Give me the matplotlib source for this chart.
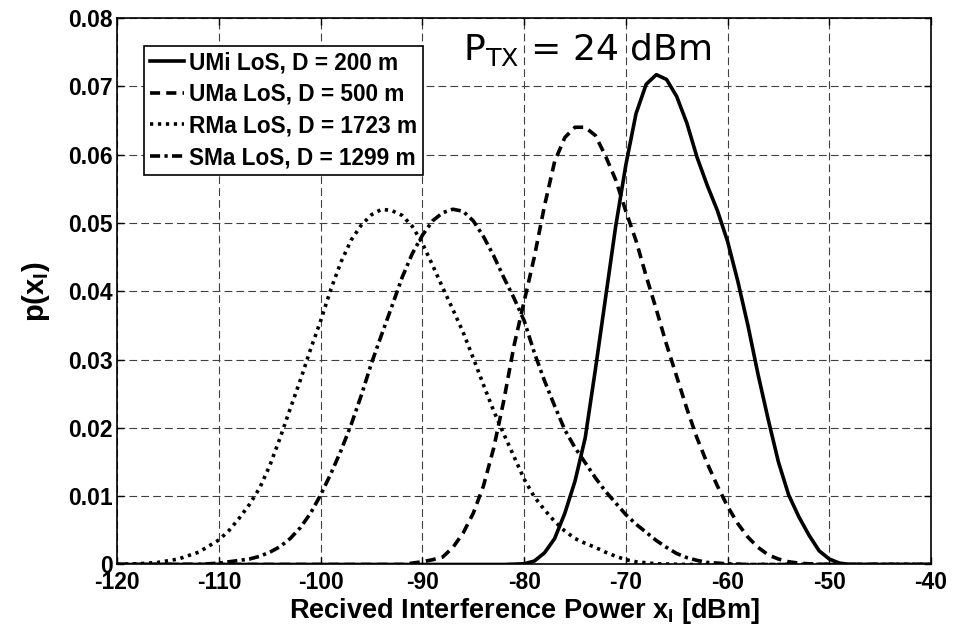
import matplotlib
matplotlib.use('Agg')
import matplotlib.pyplot as plt

plt.rcParams['font.family'] = ['Liberation Sans', 'DejaVu Sans']
plt.rcParams['font.weight'] = 'bold'
plt.rcParams['axes.unicode_minus'] = False
plt.rcParams['mathtext.fontset'] = 'custom'
plt.rcParams['mathtext.rm'] = 'DejaVu Sans:weight=normal'
plt.rcParams['mathtext.bf'] = 'Liberation Sans:bold'

# UMi LoS, D = 200 m
umi_x = [-120, -82, -80, -79, -78, -77, -76, -75, -74, -73, -72, -71, -70, -69, -68,
         -67, -66, -65, -64, -63, -62, -61, -60, -59, -58, -57, -56, -55, -54, -53,
         -52, -51, -50, -49, -48, -40]
umi_y = [0, 0, 0.0001, 0.0005, 0.0017, 0.0038, 0.0075, 0.0122, 0.0185, 0.0285, 0.0390,
         0.0495, 0.0585, 0.0660, 0.0703, 0.0717, 0.0710, 0.0685, 0.0646, 0.0596, 0.0555,
         0.0518, 0.0473, 0.0415, 0.0350, 0.0278, 0.0212, 0.0150, 0.0102, 0.0070, 0.0043,
         0.0020, 0.0008, 0.0002, 0, 0]

# UMa LoS, D = 500 m
uma_x = [-120, -92, -90, -89, -88, -87, -86, -85, -84, -83, -82, -81, -80, -79, -78,
         -77, -76, -75, -74, -73, -72, -71, -70, -69, -68, -67, -66, -65, -64, -63,
         -62, -61, -60, -59, -58, -57, -56, -55, -54, -53, -52, -50, -40]
uma_y = [0, 0, 0.0004, 0.0007, 0.0011, 0.0025, 0.0046, 0.0075, 0.0115, 0.0170, 0.0240,
         0.0320, 0.0385, 0.0450, 0.0525, 0.0590, 0.0625, 0.0640, 0.0640, 0.0628, 0.0598,
         0.0563, 0.0517, 0.0474, 0.0422, 0.0373, 0.0322, 0.0275, 0.0228, 0.0185, 0.0148,
         0.0115, 0.0085, 0.0060, 0.0040, 0.0025, 0.0014, 0.0008, 0.0004, 0.0002, 0.0001,
         0, 0]

# RMa LoS, D = 1723 m
rma_x = [-120, -118, -116, -114, -112, -110, -109, -108, -107, -106, -105, -104, -103,
         -102, -101, -100, -99, -98, -97, -96, -95, -94, -93, -92, -91, -90, -89, -88,
         -87, -86, -85, -84, -83, -82, -81, -80, -79, -78, -77, -76, -75, -74, -73,
         -72, -71, -70, -69, -67, -64, -40]
rma_y = [0, 0.0001, 0.0003, 0.0008, 0.0018, 0.0036, 0.0050, 0.0068, 0.0088, 0.0112,
         0.0145, 0.0185, 0.0228, 0.0270, 0.0315, 0.0357, 0.0403, 0.0443, 0.0475, 0.0497,
         0.0512, 0.0520, 0.0518, 0.0511, 0.0495, 0.0470, 0.0438, 0.0405, 0.0373, 0.0340,
         0.0302, 0.0263, 0.0225, 0.0191, 0.0158, 0.0125, 0.0099, 0.0080, 0.0063, 0.0049,
         0.0038, 0.0031, 0.0025, 0.0018, 0.0012, 0.0007, 0.0004, 0.0001, 0, 0]

# SMa LoS, D = 1299 m
sma_x = [-120, -112, -110, -108, -107, -106, -105, -104, -103, -102, -101, -100, -99,
         -98, -97, -96, -95, -94, -93, -92, -91, -90, -89, -88, -87, -86, -85, -84,
         -83, -82, -81, -80, -79, -78, -77, -76, -75, -74, -73, -72, -71, -70, -69,
         -68, -67, -66, -65, -64, -63, -62, -61, -60, -58, -40]
sma_y = [0, 0, 0.0002, 0.0006, 0.0008, 0.0012, 0.0018, 0.0026, 0.0038, 0.0054, 0.0075,
         0.0102, 0.0133, 0.0167, 0.0205, 0.0248, 0.0295, 0.0337, 0.0378, 0.0420, 0.0455,
         0.0482, 0.0503, 0.0515, 0.0520, 0.0517, 0.0503, 0.0480, 0.0452, 0.0420, 0.0390,
         0.0357, 0.0310, 0.0269, 0.0232, 0.0197, 0.0171, 0.0149, 0.0127, 0.0107, 0.0090,
         0.0073, 0.0059, 0.0047, 0.0035, 0.0025, 0.0016, 0.0010, 0.0006, 0.0003, 0.0002,
         0.0001, 0, 0]

labels = ['UMi LoS, D = 200 m', 'UMa LoS, D = 500 m',
          'RMa LoS, D = 1723 m', 'SMa LoS, D = 1299 m']

fig = plt.figure(figsize=(9.59, 6.3), dpi=100)
ax = fig.add_axes([0.1223, 0.104, 0.8485, 0.8675])

lw = 2.6
kw = dict(color='k', lw=lw, solid_joinstyle='round', dash_joinstyle='round')
ax.plot(umi_x, umi_y, ls='-', label=labels[0], **kw)
ax.plot(uma_x, uma_y, ls=(0, (2.8, 1.7)), label=labels[1], **kw)
ax.plot(rma_x, rma_y, ls=(0, (0.9, 1.3)), label=labels[2], **kw)
ax.plot(sma_x, sma_y, ls=(0, (2.8, 1.2, 0.9, 1.2)), label=labels[3], **kw)

ax.set_xlim(-120, -40)
ax.set_ylim(0, 0.08)
ax.set_xticks(range(-120, -39, 10))
ax.set_yticks([0, 0.01, 0.02, 0.03, 0.04, 0.05, 0.06, 0.07, 0.08])
ax.set_yticklabels(['0', '0.01', '0.02', '0.03', '0.04', '0.05', '0.06', '0.07', '0.08'])
ax.tick_params(direction='in', length=5, width=1, labelsize=16.5, top=True, right=True)
ax.tick_params(axis='x', pad=5)
ax.tick_params(axis='y', pad=3)
ax.grid(True, color='0.25', ls=(0, (7, 3.7)), lw=0.8)
for s in ax.spines.values():
    s.set_linewidth(1.2)

ax.set_xlabel(r'Recived Interference Power x$_\mathbf{I}$ [dBm]', fontsize=19.5,
              fontweight='bold', labelpad=1)
ax.set_ylabel(r'p(x$_\mathbf{I}$)', fontsize=21, fontweight='bold', labelpad=12)

ax.text(-86.0, 0.0739, r'$\mathrm{P}_\mathrm{TX}$ = 24 dBm', fontsize=26,
        fontweight='normal', family='DejaVu Sans')

leg = ax.legend(loc='upper left', bbox_to_anchor=(0.0328, 0.9495), fontsize=16.3,
                handlelength=1.5, handletextpad=0.25, borderpad=0.25, labelspacing=0.38,
                borderaxespad=0, fancybox=False, framealpha=1, edgecolor='k')
leg.get_frame().set_linewidth(1.2)

fig.savefig('out.png', dpi=100)
